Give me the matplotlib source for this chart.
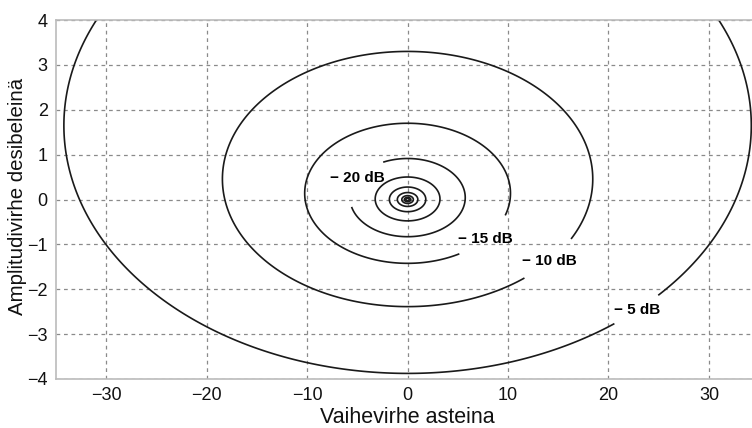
import matplotlib
matplotlib.use("Agg")
import matplotlib.pyplot as plt
import numpy as np

plt.rcParams['font.family'] = ['Liberation Sans', 'DejaVu Sans']

# contour levels (dB) of image rejection
inner_levels = [-50, -45, -40, -35, -30, -25]
labelled = [-20, -15, -10, -5]
label_pos = [(-5.6, 0.6), (7.8, -0.88), (14.3, -1.41), (22.8, -2.46)]

xticks = [-30, -20, -10, 0, 10, 20, 30]
yticks = [-4, -3, -2, -1, 0, 1, 2, 3, 4]

# phase error (deg) and amplitude error (dB) grid
phase = np.linspace(-36, 36, 721)
amp = np.linspace(-4.2, 4.2, 841)
P, A = np.meshgrid(phase, amp)
h = 10 ** (-A / 20)
irr = 10 * np.log10(np.abs(1 + h**2 - 2 * h * np.cos(np.radians(P))) + 1e-12)

fig = plt.figure(figsize=(7.52, 4.28), dpi=100)
ax = fig.add_axes([0.0745, 0.1145, 0.935, 0.8385])

ax.grid(True, color='#8a8a8a', linestyle=(0, (3, 3)), linewidth=0.9)
ax.set_axisbelow(True)

ax.contour(P, A, irr, levels=inner_levels, colors='#1a1a1a',
           linewidths=1.2, linestyles='solid')
cs = ax.contour(P, A, irr, levels=labelled, colors='#1a1a1a',
                linewidths=1.2, linestyles='solid')
lab = ax.clabel(cs, manual=label_pos, inline=True,
                inline_spacing=3, fontsize=11, colors='black',
                fmt=lambda v: '\u2212 %d dB' % abs(v))
for t in lab:
    t.set_rotation(0)
    t.set_fontweight('bold')

ax.set_xlim(-35, 35)
ax.set_ylim(-4, 4)
ax.set_xticks(xticks)
ax.set_yticks(yticks)
ax.tick_params(labelsize=13, length=0, pad=6, labelcolor='#111111')
for s in ax.spines.values():
    s.set_color('#bbbbbb')
    s.set_linewidth(1.2)

ax.set_xlabel('Vaihevirhe asteina', fontsize=15.5, labelpad=2, color='#111111')
ax.set_ylabel('Amplitudivirhe desibeleinä', fontsize=14.7, color='#111111')
ax.yaxis.set_label_coords(-0.041, 0.51)

fig.savefig('out.png', dpi=100)
